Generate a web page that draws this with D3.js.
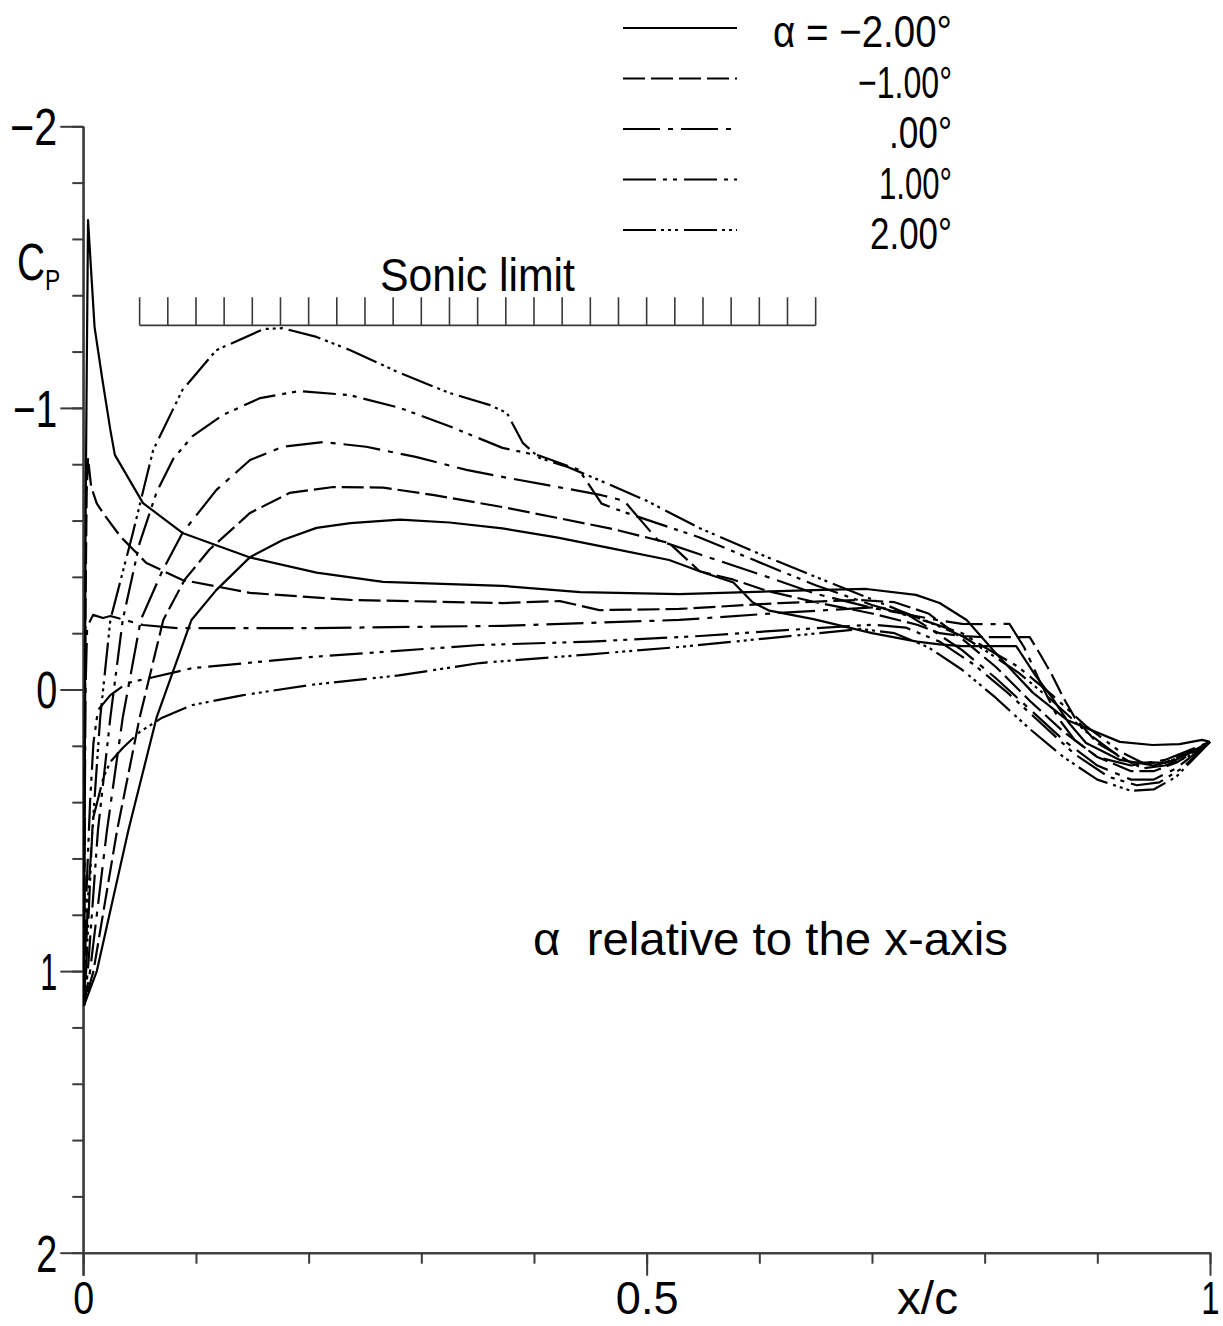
<!DOCTYPE html>
<html>
<head>
<meta charset="utf-8">
<script src="https://cdn.jsdelivr.net/npm/d3@7"></script>
<style>
  body { margin: 0; background: #fff; }
  text { font-family: "Liberation Sans", Arial, sans-serif; fill: #000; white-space: pre; }
</style>
</head>
<body>
<svg id="chart" width="1223" height="1326"></svg>
<script>
// Pressure distributions Cp(x/c), one loop per angle of attack:
// lower surface (LE -> TE) and upper surface (LE -> TE), as [x/c, Cp].
const alphaLabels = ["\u03b1 = \u22122.00\u00b0", "\u22121.00\u00b0", ".00\u00b0", "1.00\u00b0", "2.00\u00b0"];

const upperM2 = [[0.0008,1.12],[0.012,1.0],[0.040,0.5],[0.065,0.1],[0.096,-0.247],[0.118,-0.353],[0.148,-0.47],[0.177,-0.531],[0.207,-0.574],[0.237,-0.591],[0.281,-0.603],[0.325,-0.593],[0.372,-0.572],[0.42,-0.54],[0.47,-0.50],[0.52,-0.46],[0.547,-0.42],[0.577,-0.38],[0.594,-0.31],[0.609,-0.28],[0.648,-0.25],[0.70,-0.20],[0.74,-0.17],[0.76,-0.16],[0.78,-0.154],[0.828,-0.154],[0.845,-0.05],[0.86,0.03],[0.875,0.12],[0.89,0.19],[0.92,0.25],[0.95,0.27],[0.97,0.25],[1.0,0.186]];
const lowerM2 = [[0.0008,1.12],[0.001,0.6],[0.0015,0.0],[0.002,-0.6],[0.003,-1.1],[0.0042,-1.667],[0.010,-1.287],[0.017,-1.099],[0.024,-0.922],[0.028,-0.833],[0.053,-0.662],[0.088,-0.556],[0.148,-0.469],[0.207,-0.415],[0.266,-0.382],[0.372,-0.368],[0.441,-0.346],[0.529,-0.339],[0.648,-0.353],[0.695,-0.357],[0.739,-0.336],[0.760,-0.307],[0.784,-0.247],[0.813,-0.115],[0.843,0.012],[0.873,0.108],[0.920,0.186],[0.949,0.197],[0.973,0.194],[0.993,0.179],[1.0,0.186]];

const upperM1 = [[0.0008,1.12],[0.009,1.0],[0.030,0.5],[0.05,0.1],[0.071,-0.247],[0.09,-0.39],[0.112,-0.497],[0.148,-0.627],[0.183,-0.698],[0.222,-0.719],[0.266,-0.717],[0.310,-0.691],[0.372,-0.648],[0.42,-0.61],[0.47,-0.57],[0.52,-0.52],[0.547,-0.42],[0.577,-0.39],[0.607,-0.35],[0.65,-0.31],[0.70,-0.27],[0.74,-0.23],[0.76,-0.20],[0.78,-0.19],[0.80,-0.186],[0.84,-0.186],[0.85,-0.12],[0.86,-0.05],[0.87,0.03],[0.88,0.10],[0.90,0.19],[0.93,0.26],[0.96,0.26],[1.0,0.186]];
const lowerM1 = [[0.0008,1.12],[0.001,0.5],[0.002,-0.3],[0.003,-0.7],[0.0042,-0.822],[0.007,-0.72],[0.012,-0.66],[0.020,-0.613],[0.033,-0.543],[0.056,-0.449],[0.088,-0.389],[0.148,-0.343],[0.237,-0.318],[0.372,-0.307],[0.423,-0.314],[0.458,-0.282],[0.529,-0.286],[0.618,-0.307],[0.689,-0.318],[0.72,-0.31],[0.75,-0.27],[0.78,-0.18],[0.81,-0.08],[0.84,0.04],[0.87,0.15],[0.90,0.24],[0.93,0.29],[0.95,0.29],[0.97,0.26],[1.0,0.186]];

const upper0 = [[0.0008,1.12],[0.006,1.0],[0.021,0.5],[0.035,0.1],[0.051,-0.247],[0.07,-0.42],[0.088,-0.556],[0.118,-0.708],[0.148,-0.815],[0.177,-0.862],[0.213,-0.879],[0.251,-0.862],[0.295,-0.826],[0.340,-0.78],[0.372,-0.755],[0.42,-0.72],[0.46,-0.69],[0.48,-0.67],[0.51,-0.53],[0.547,-0.48],[0.607,-0.40],[0.65,-0.34],[0.70,-0.29],[0.74,-0.26],[0.76,-0.245],[0.78,-0.233],[0.80,-0.232],[0.822,-0.233],[0.835,-0.15],[0.85,-0.02],[0.865,0.10],[0.88,0.18],[0.90,0.24],[0.93,0.27],[0.96,0.25],[1.0,0.186]];
const lower0 = [[0.0008,1.12],[0.0012,0.5],[0.002,0.0],[0.0034,-0.222],[0.0087,-0.265],[0.0175,-0.254],[0.024,-0.261],[0.053,-0.229],[0.083,-0.218],[0.201,-0.218],[0.372,-0.226],[0.529,-0.247],[0.618,-0.272],[0.706,-0.293],[0.73,-0.27],[0.75,-0.22],[0.78,-0.14],[0.81,-0.04],[0.84,0.07],[0.87,0.18],[0.90,0.27],[0.93,0.32],[0.95,0.32],[0.97,0.28],[1.0,0.186]];

const upperP1 = [[0.0008,1.12],[0.004,1.0],[0.013,0.5],[0.024,0.1],[0.035,-0.247],[0.05,-0.52],[0.065,-0.70],[0.08,-0.82],[0.097,-0.90],[0.124,-0.975],[0.157,-1.035],[0.192,-1.060],[0.237,-1.045],[0.281,-1.0],[0.325,-0.935],[0.372,-0.858],[0.405,-0.83],[0.44,-0.78],[0.46,-0.66],[0.48,-0.63],[0.547,-0.54],[0.607,-0.44],[0.65,-0.37],[0.70,-0.30],[0.75,-0.24],[0.78,-0.20],[0.80,-0.15],[0.83,-0.08],[0.86,0.02],[0.89,0.13],[0.92,0.22],[0.94,0.26],[0.96,0.26],[0.98,0.23],[1.0,0.186]];
const lowerP1 = [[0.0008,1.12],[0.003,0.7],[0.006,0.4],[0.009,0.19],[0.013,0.073],[0.024,0.02],[0.039,-0.023],[0.059,-0.041],[0.097,-0.076],[0.201,-0.115],[0.352,-0.158],[0.45,-0.17],[0.547,-0.19],[0.62,-0.21],[0.70,-0.23],[0.73,-0.22],[0.76,-0.17],[0.79,-0.09],[0.82,0.01],[0.85,0.12],[0.88,0.23],[0.91,0.31],[0.935,0.34],[0.955,0.33],[0.975,0.28],[1.0,0.186]];

const upperP2 = [[0.0008,1.12],[0.0025,1.0],[0.008,0.5],[0.015,0.1],[0.024,-0.247],[0.044,-0.556],[0.062,-0.850],[0.088,-1.064],[0.118,-1.205],[0.160,-1.280],[0.177,-1.283],[0.207,-1.252],[0.237,-1.205],[0.281,-1.124],[0.325,-1.053],[0.361,-1.010],[0.376,-0.982],[0.390,-0.876],[0.405,-0.822],[0.43,-0.79],[0.46,-0.74],[0.50,-0.67],[0.547,-0.573],[0.607,-0.47],[0.65,-0.40],[0.70,-0.32],[0.725,-0.28],[0.75,-0.24],[0.78,-0.19],[0.80,-0.14],[0.83,-0.06],[0.86,0.04],[0.89,0.15],[0.92,0.24],[0.94,0.28],[0.96,0.27],[0.98,0.24],[1.0,0.186]];
const lowerP2 = [[0.0008,1.12],[0.004,0.75],[0.009,0.453],[0.018,0.311],[0.024,0.257],[0.035,0.208],[0.050,0.151],[0.07,0.10],[0.097,0.055],[0.142,0.02],[0.201,-0.016],[0.28,-0.05],[0.352,-0.094],[0.45,-0.125],[0.529,-0.151],[0.618,-0.186],[0.69,-0.215],[0.72,-0.20],[0.75,-0.15],[0.78,-0.07],[0.81,0.03],[0.84,0.14],[0.87,0.24],[0.90,0.32],[0.93,0.36],[0.95,0.355],[0.97,0.31],[1.0,0.186]];

// Sonic pressure coefficient and the chord range it is marked over
const sonicCp = -1.293;
const sonicRange = [0.05, 0.65];
const sonicStep = 0.025;

const yMajorTicks = [-2, -1, 0, 1, 2];
const xMajorTicks = [0, 0.5, 1];

const series = [
  { label: alphaLabels[0], upper: upperM2, lower: lowerM2, dash: null,               width: 179 },
  { label: alphaLabels[1], upper: upperM1, lower: lowerM1, dash: "22,6",             width: 94 },
  { label: alphaLabels[2], upper: upper0,  lower: lower0,  dash: "37,8,5,8",         width: 63 },
  { label: alphaLabels[3], upper: upperP1, lower: lowerP1, dash: "33,7,4,6,4,7",     width: 73 },
  { label: alphaLabels[4], upper: upperP2, lower: lowerP2, dash: "33,5,3,4,3,4,3,6", width: 82 }
];

const svg = d3.select("#chart");
const x = d3.scaleLinear().domain([0, 1]).range([83.3, 1210]);
const y = d3.scaleLinear().domain([-2, 2]).range([126.3, 1252.7]);

const axisColor = "#3a3a3a";

// Narrow plotter lettering: glyph runs are squeezed to a given width
function narrow(sel, w) {
  sel.attr("textLength", w).attr("lengthAdjust", "spacingAndGlyphs");
}
const yLabelWidth = d => ({ "-2": 47, "-1": 44, "0": 21, "1": 17, "2": 21 })[String(d)];
const xLabelScale = d => ({ "0": 0.8, "0.5": 0.96, "1": 0.7 })[String(d)];

// --- Y axis: minor ticks every 0.2, long labelled ticks at integers
const yMinor = svg.append("g").attr("transform", `translate(${x(0)},0)`)
  .call(d3.axisLeft(y).tickValues(d3.range(-2, 2.001, 0.2)).tickSize(11).tickSizeOuter(0).tickFormat(""));
const yMajor = svg.append("g").attr("transform", `translate(${x(0)},0)`)
  .call(d3.axisLeft(y).tickValues(yMajorTicks).tickSize(23).tickSizeOuter(0).tickPadding(3)
    .tickFormat(d => d < 0 ? "\u2212" + Math.abs(d) : String(d)));

// --- X axis: minor ticks every 0.1, long labelled ticks at 0, 0.5, 1
const xMinor = svg.append("g").attr("transform", `translate(0,${y(2)})`)
  .call(d3.axisBottom(x).tickValues(d3.range(0, 1.001, 0.1)).tickSize(11).tickSizeOuter(0).tickFormat(""));
const xMajor = svg.append("g").attr("transform", `translate(0,${y(2)})`)
  .call(d3.axisBottom(x).tickValues(xMajorTicks).tickSize(23).tickSizeOuter(0)
    .tickFormat(d => String(d)));

[yMinor, yMajor, xMinor, xMajor].forEach(g => {
  g.selectAll("path").attr("stroke", axisColor).attr("stroke-width", 2);
  g.selectAll("line").attr("stroke", axisColor).attr("stroke-width", 2);
  g.selectAll("text").attr("fill", "#000")
    .style("font-family", '"Liberation Sans", Arial, sans-serif');
});
yMajor.selectAll("text").attr("font-size", 51).attr("dy", "0.36em")
  .each(function (d) { narrow(d3.select(this), yLabelWidth(d)); });
// chord labels: squeezed horizontally about their own tick
xMajor.selectAll("text").attr("font-size", 47).attr("y", 1314 - y(2)).attr("dy", 0)
  .attr("transform", d => `scale(${xLabelScale(d)},1)`);
// the domain of the y axis reaches down to the long tick at x/c = 0
yMajor.select("path.domain").attr("d", `M0,${y(-2)}V${y(2) + 23}`);

// Axis titles: C with a small subscript P, in one squeezed run
const cpLabel = svg.append("text").attr("transform", "translate(17,280) scale(0.76,1)").attr("font-size", 51);
cpLabel.append("tspan").text("C");
cpLabel.append("tspan").attr("font-size", 30).attr("dy", 10).text("P");
svg.append("text").attr("x", 897).attr("y", 1314).attr("font-size", 47).call(narrow, 61).text("x/c");

// --- Sonic limit marker
const sonicG = svg.append("g").attr("stroke", axisColor).attr("stroke-width", 1.6);
sonicG.append("line")
  .attr("x1", x(sonicRange[0])).attr("x2", x(sonicRange[1]))
  .attr("y1", y(sonicCp)).attr("y2", y(sonicCp));
sonicG.selectAll("line.tick")
  .data(d3.range(sonicRange[0], sonicRange[1] + 1e-9, sonicStep))
  .join("line").attr("class", "tick")
  .attr("x1", d => x(d)).attr("x2", d => x(d))
  .attr("y1", y(sonicCp)).attr("y2", y(sonicCp - 0.1));
svg.append("text").attr("x", 380).attr("y", 291)
  .attr("font-size", 46).call(narrow, 195)
  .text("Sonic limit");

// --- Cp curves: lower surface from TE to LE, then upper surface from LE to TE
const line = d3.line().x(d => x(d[0])).y(d => y(d[1]));
svg.append("g").selectAll("path")
  .data(series)
  .join("path")
  .attr("d", s => line(s.lower.slice().reverse().concat(s.upper.slice(1))))
  .attr("fill", "none")
  .attr("stroke", "#000")
  .attr("stroke-width", 2.2)
  .attr("stroke-linejoin", "round")
  .attr("stroke-dasharray", s => s.dash);

// --- Legend
const legend = svg.append("g");
const legendRows = legend.selectAll("g").data(series).join("g")
  .attr("transform", (d, i) => `translate(0,${28 + i * 50.5})`);
legendRows.append("line")
  .attr("x1", 623).attr("x2", 737).attr("y1", 0).attr("y2", 0)
  .attr("stroke", "#000").attr("stroke-width", 2.2)
  .attr("stroke-dasharray", d => d.dash);
legendRows.append("text")
  .attr("x", d => 952 - d.width).attr("y", 19)
  .attr("font-size", 45)
  .each(function (d) { narrow(d3.select(this), d.width); })
  .text(d => d.label);

// Note on the reference axis
svg.append("text").attr("x", 533).attr("y", 955).attr("font-size", 46)
  .call(narrow, 475)
  .text("\u03b1  relative to the x-axis");
</script>
</body>
</html>
